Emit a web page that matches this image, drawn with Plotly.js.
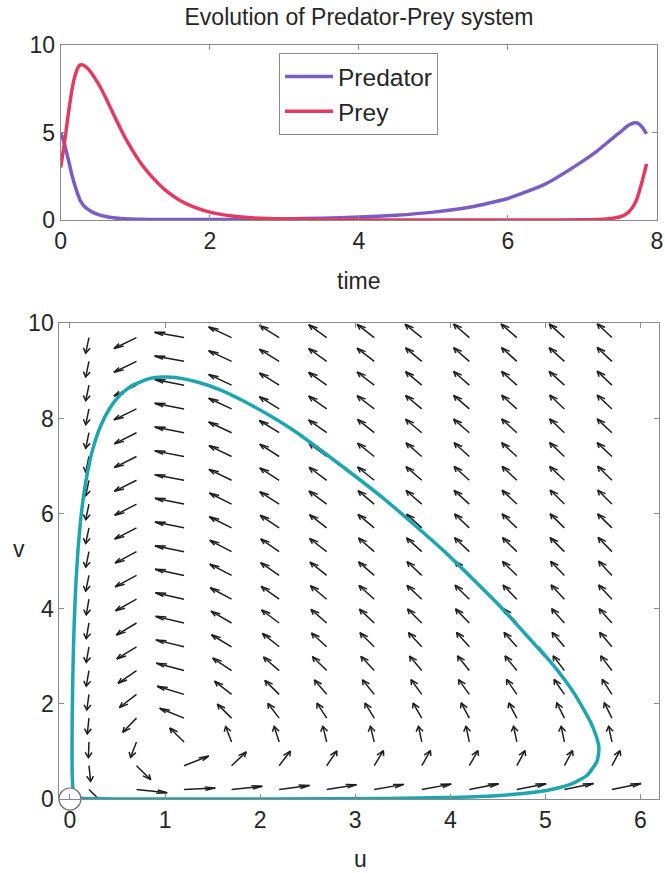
<!DOCTYPE html>
<html>
<head>
<meta charset="utf-8">
<script src="https://cdn.plot.ly/plotly-3.0.1.min.js"></script>
<style>html,body{margin:0;padding:0;background:#fff}</style>
</head>
<body>
<div id="chart" style="width:665px;height:873px"></div>
<script>
// Time samples of the simulated run
const time = [0, 0.04, 0.075, 0.11, 0.145, 0.163, 0.18, 0.20, 0.22, 0.241, 0.262, 0.284, 0.305,
  0.35, 0.395, 0.44, 0.50, 0.56, 0.62, 0.70, 0.80, 0.90, 1.00, 1.10, 1.20, 1.40, 1.60, 1.80,
  2.00, 2.30, 2.60, 3.00, 3.50, 4.00, 4.50, 5.00, 5.50, 6.00, 6.50, 7.00, 7.20, 7.35, 7.45,
  7.52, 7.58, 7.63, 7.68, 7.70, 7.72, 7.74, 7.76, 7.80, 7.83, 7.86];

// Predator population u(t)
const predator = [5.0, 4.5, 3.94, 3.31, 2.66, 2.38, 2.11, 1.84, 1.58, 1.33, 1.11, 0.97, 0.84,
  0.66, 0.53, 0.42, 0.318, 0.241, 0.182, 0.127, 0.0849, 0.06, 0.0452, 0.036, 0.0302, 0.024, 0.022, 0.0224,
  0.0248, 0.0312, 0.0415, 0.0598, 0.1, 0.165, 0.27, 0.45, 0.74, 1.23, 2.05, 3.35, 3.95, 4.48, 4.84,
  5.06, 5.29, 5.44, 5.54, 5.558, 5.562, 5.535, 5.48, 5.31, 5.13, 4.92];

// Prey population v(t)
const prey = [3.0, 4.1, 5.2, 6.3, 7.3, 7.71, 8.05, 8.35, 8.6, 8.77, 8.86, 8.87, 8.84,
  8.70, 8.50, 8.22, 7.82, 7.36, 6.84, 6.12, 5.24, 4.43, 3.72, 3.1, 2.58, 1.72, 1.12, 0.72,
  0.45, 0.23, 0.12, 0.055, 0.021, 0.0087, 0.004, 0.002, 0.0014, 0.0013, 0.0024, 0.012, 0.03, 0.07, 0.13,
  0.2, 0.33, 0.5, 0.78, 0.93, 1.1, 1.32, 1.6, 2.2, 2.7, 3.2];

// Direction-field sample grid
const gridU = [0.2, 0.7, 1.2, 1.7, 2.2, 2.7, 3.2, 3.7, 4.2, 4.7, 5.2, 5.7];
const gridV = [0.2, 0.7, 1.2, 1.7, 2.2, 2.7, 3.2, 3.7, 4.2, 4.7, 5.2, 5.7, 6.2, 6.7, 7.2, 7.7, 8.2, 8.7, 9.2, 9.7];

// Flow direction (degrees, in u-v units) at each grid node; one row per gridV value
const fieldAngle = [
  [-63, -12,   5,  12,  15,  18,  19,  20,  21,  21,  22,  22],
  [-87, -63,  38,  62,  69,  71,  73,  74,  74,  75,  75,  75],
  [269, 259, 117, 101,  99,  97,  97,  96,  96,  96,  96,  96],
  [267, 244, 141, 117, 111, 108, 107, 106, 105, 105, 104, 104],
  [266, 237, 149, 123, 117, 113, 112, 110, 110, 109, 109, 108],
  [265, 234, 152, 127, 120, 117, 115, 113, 112, 112, 111, 111],
  [265, 231, 154, 130, 122, 119, 117, 115, 114, 114, 113, 113],
  [265, 230, 155, 131, 124, 120, 118, 117, 116, 115, 114, 114],
  [265, 228, 156, 133, 125, 121, 119, 118, 117, 116, 115, 115],
  [264, 227, 157, 134, 126, 122, 120, 118, 117, 117, 116, 115],
  [264, 227, 158, 134, 126, 123, 120, 119, 118, 117, 117, 116],
  [264, 226, 158, 135, 127, 123, 121, 119, 118, 118, 117, 117],
  [264, 226, 158, 135, 128, 124, 121, 120, 119, 118, 117, 117],
  [264, 225, 159, 136, 128, 124, 122, 120, 119, 118, 118, 117],
  [264, 225, 159, 136, 128, 124, 122, 120, 119, 119, 118, 118],
  [264, 225, 159, 137, 129, 125, 122, 121, 120, 119, 118, 118],
  [264, 224, 159, 137, 129, 125, 123, 121, 120, 119, 118, 118],
  [264, 224, 159, 137, 129, 125, 123, 121, 120, 119, 119, 118],
  [264, 224, 160, 137, 129, 125, 123, 121, 120, 119, 119, 118],
  [264, 224, 160, 137, 129, 125, 123, 122, 120, 120, 119, 118]
];

// Trivial equilibrium marked on the phase plane
const equilibriumU = [0];
const equilibriumV = [0];

const FONT = 'Liberation Sans, Arial, Helvetica, sans-serif';
const TEXT = '#262626';
const AXIS = '#8a8a8a';

// Quiver arrows: shaft plus a two-stroke head, all in data units
function quiverPaths(arrowLen, headLen, headWidth) {
  const xs = [], ys = [];
  gridV.forEach((v, r) => {
    gridU.forEach((u, c) => {
      const a = fieldAngle[r][c] * Math.PI / 180;
      const du = arrowLen * Math.cos(a);
      const dv = arrowLen * Math.sin(a);
      const tu = u + du, tv = v + dv;
      xs.push(u, tu, null);
      ys.push(v, tv, null);
      xs.push(tu - headLen * (du + headWidth * dv), tu, tu - headLen * (du - headWidth * dv), null);
      ys.push(tv - headLen * (dv - headWidth * du), tv, tv - headLen * (dv + headWidth * du), null);
    });
  });
  return {xs, ys};
}

const q = quiverPaths(0.33, 0.33, 0.33);

const traces = [
  {x: time, y: predator, name: 'Predator', mode: 'lines', xaxis: 'x', yaxis: 'y',
   line: {color: '#7b5cc4', width: 3.5, shape: 'spline', smoothing: 0.5}, hoverinfo: 'skip'},
  {x: time, y: prey, name: 'Prey', mode: 'lines', xaxis: 'x', yaxis: 'y',
   line: {color: '#e23a60', width: 3.5, shape: 'spline', smoothing: 0.5}, hoverinfo: 'skip'},
  {x: q.xs, y: q.ys, mode: 'lines', xaxis: 'x2', yaxis: 'y2', showlegend: false,
   line: {color: '#1e1e1e', width: 1.5}, hoverinfo: 'skip'},
  {x: predator, y: prey, mode: 'lines', xaxis: 'x2', yaxis: 'y2', showlegend: false,
   line: {color: '#1fa5b0', width: 3.5, shape: 'spline', smoothing: 0.5}, hoverinfo: 'skip'},
  {x: equilibriumU, y: equilibriumV, mode: 'markers', xaxis: 'x2', yaxis: 'y2', showlegend: false,
   cliponaxis: false,
   marker: {symbol: 'circle', size: 22, color: '#ffffff', line: {color: '#6e6e6e', width: 1.2}}, hoverinfo: 'skip'}
];

const axisBase = {
  showgrid: false, zeroline: false, showline: true, mirror: 'ticks',
  linecolor: AXIS, linewidth: 1, ticks: 'inside', ticklen: 5, tickcolor: AXIS, tickwidth: 1,
  tickfont: {family: FONT, size: 23, color: TEXT}, fixedrange: true
};

const H = 873, W = 665;
const layout = {
  width: W, height: H,
  margin: {l: 0, r: 0, t: 0, b: 0},
  paper_bgcolor: '#ffffff', plot_bgcolor: '#ffffff',
  font: {family: FONT, size: 23, color: TEXT},
  title: {text: 'Evolution of Predator-Prey system', x: 359 / W, xanchor: 'center',
          y: 1 - 17 / H, yanchor: 'middle', font: {family: FONT, size: 23, color: TEXT}},
  xaxis: Object.assign({}, axisBase, {domain: [60.7 / W, 657 / W], range: [0, 8],
          tickvals: [0, 2, 4, 6, 8], anchor: 'y'}),
  yaxis: Object.assign({}, axisBase, {domain: [(H - 220) / H, (H - 45) / H], range: [0, 10],
          tickvals: [0, 5, 10], anchor: 'x'}),
  xaxis2: Object.assign({}, axisBase, {domain: [59.3 / W, 659 / W], range: [-0.112, 6.195],
          tickvals: [0, 1, 2, 3, 4, 5, 6], anchor: 'y2'}),
  yaxis2: Object.assign({}, axisBase, {domain: [(H - 799) / H, (H - 323.3) / H], range: [0, 10],
          tickvals: [0, 2, 4, 6, 8, 10], anchor: 'x2'}),
  showlegend: true,
  legend: {x: 279 / W, y: 1 - 53 / H, xanchor: 'left', yanchor: 'top', itemwidth: 48,
           bgcolor: '#ffffff', bordercolor: AXIS, borderwidth: 1,
           font: {family: FONT, size: 24.5, color: TEXT}},
  annotations: [
    {text: 'time', xref: 'paper', yref: 'paper', x: 358 / W, y: 1 - 281 / H,
     xanchor: 'center', yanchor: 'middle', showarrow: false, font: {family: FONT, size: 23, color: TEXT}},
    {text: 'u', xref: 'paper', yref: 'paper', x: 360 / W, y: 1 - 859 / H,
     xanchor: 'center', yanchor: 'middle', showarrow: false, font: {family: FONT, size: 23, color: TEXT}},
    {text: 'v', xref: 'paper', yref: 'paper', x: 19 / W, y: 1 - 549 / H,
     xanchor: 'center', yanchor: 'middle', showarrow: false, font: {family: FONT, size: 23, color: TEXT}}
  ]
};

Plotly.newPlot('chart', traces, layout, {displayModeBar: false, staticPlot: true});
</script>
</body>
</html>
